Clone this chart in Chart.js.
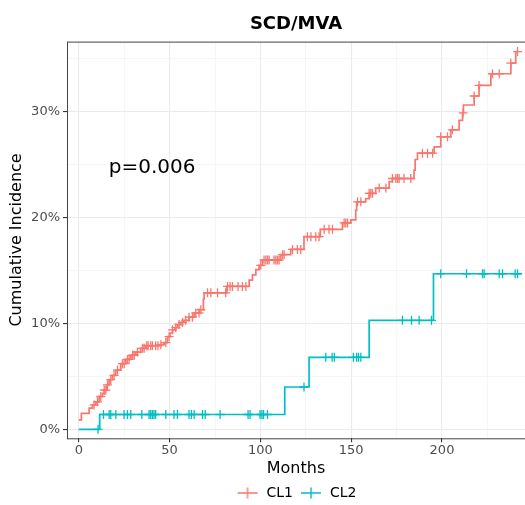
<!DOCTYPE html>
<html>
<head>
<meta charset="utf-8">
<script src="https://cdn.jsdelivr.net/npm/chart.js@4/dist/chart.umd.min.js"></script>
<style>
html, body { margin:0; padding:0; background:#fff; overflow:hidden; }
</style>
</head>
<body>
<canvas id="km" width="525" height="505"></canvas>
<script>
// cumulative incidence (%) after each event, months
const cl1Times = [0, 1.4, 5.7, 7.5, 9.4, 11.2, 13, 14, 15.4, 16.7, 18.5, 20.4, 23.1, 25.9, 28.6, 31.4, 34.1, 36.9, 45, 47,
  48.8, 50.2, 51.6, 53, 54.3, 56, 58, 60.7, 63.5, 66.3, 68.6, 69, 81.5, 93.8, 95.6, 97.5, 99.3, 101.1, 111.2, 116.7,
  124, 133, 145.2, 149.8, 152.5, 153, 158, 159.9, 163.5, 170.9, 172.7, 184.6, 185.2, 186.5, 195.7, 199.3, 204.8, 209.4, 211.3, 211.8,
  217.7, 220.4, 226.9, 237.9, 240.6];
const cl1Values = [0.9, 1.5, 2.0, 2.3, 2.6, 3.1, 3.4, 3.7, 4.2, 4.7, 5.1, 5.6, 6.2, 6.6, 7.0, 7.3, 7.65, 7.9, 8.0, 8.2,
  8.75, 9.1, 9.4, 9.6, 9.9, 10.1, 10.3, 10.6, 11.0, 11.3, 12.3, 12.9, 13.5, 14.1, 14.6, 15.1, 15.5, 16.0, 16.5, 17.0,
  18.2, 18.9, 19.5, 19.8, 20.7, 21.5, 21.8, 22.3, 22.8, 23.4, 23.7, 24.5, 25.5, 26.1, 26.7, 27.65, 28.3, 29.2, 29.9, 30.65,
  31.5, 32.5, 33.6, 34.6, 35.7];
const cl1Censor = [8.4, 10.3, 12.1, 14.0, 14.9, 15.8, 17.6, 19.4, 21.3, 24.0, 25.0, 26.8, 27.7, 29.6, 30.5, 32.3, 35.1, 36.0,
  37.4, 38.2, 39.6, 40.5, 42.3, 43.6, 45.2, 47.9, 49.7, 51.6, 53.4, 55.2, 57.1, 58.9, 60.7, 62.6, 64.4, 66.2, 67.2, 70.9,
  72.7, 76.4, 80.9, 81.9, 83.3, 84.6, 87.7, 90.1, 92.0, 100.2, 102.0, 103.0, 103.9, 104.8, 107.5, 108.5, 109.4, 110.3,
  112.2, 113.1, 117.7, 120.4, 122.2, 125.9, 127.8, 130.5, 132.3, 135.1, 137.8, 139.7, 146.1, 147.0, 148.0, 153.5, 155.3,
  159.9, 160.8, 161.7, 165.4, 169.1, 172.7, 174.6, 175.5, 176.4, 179.1, 182.8, 189.2, 192.0, 194.8, 199.3, 203.0, 205.7,
  211.6, 217.7, 220.4, 227.8, 231.5, 237.9, 241.6];

const cl2Times = [0, 11.5, 113.4, 126.8, 159.9, 195.3, 244];
const cl2Values = [0, 1.4, 4.0, 6.8, 10.3, 14.7, 14.7];
const cl2Censor = [10.6, 13.6, 16.7, 17.6, 20.4, 24.9, 26.8, 28.6, 34.7, 38.7, 39.6, 40.5, 41.4, 42.3, 47.9, 52.4, 54.3,
  60.7, 62.0, 63.5, 68.1, 69.6, 77.8, 93.2, 94.3, 99.8, 100.8, 101.7, 103.9, 124, 136, 139.5, 140.7, 151.2, 153, 154,
  155.3, 178.2, 183.2, 187.4, 194.2, 199.3, 213.5, 222.3, 223.2, 231.5, 233.3, 240.3, 241.6];

const groups = ['CL1', 'CL2'];
const colors = ['#F8766D', '#00BFC4'];
const xTicks = [0, 50, 100, 150, 200];
const xMinor = [25, 75, 125, 175, 225];
const yTicks = [0, 10, 20, 30];
const yMinor = [5, 15, 25, 35];
const pText = 'p=0.006';
const pPos = [16.5, 24.7];

const FONT = 'DejaVu Sans';

function stepAt(times, values, t) {
    let v = values[0];
    for (let i = 0; i < times.length; i++) if (times[i] <= t) v = values[i];
    return v;
}
const curve = (times, values) => times.map((t, i) => ({x: t, y: values[i]}));
const marks = (cens, times, values) => cens.map(t => ({x: t, y: stepAt(times, values, t)}));

function legendKey(color) {
    const c = document.createElement('canvas');
    c.width = 24; c.height = 12;
    const g = c.getContext('2d');
    g.strokeStyle = color;
    g.lineWidth = 1.4;
    g.beginPath();
    g.moveTo(2, 6); g.lineTo(22, 6);
    g.moveTo(12, 0.5); g.lineTo(12, 11.5);
    g.stroke();
    return c;
}

const panelPlugin = {
    id: 'panel',
    afterDatasetsDraw(chart) {
        const {ctx, chartArea: a, scales} = chart;
        ctx.save();
        ctx.strokeStyle = '#444';
        ctx.lineWidth = 1;
        ctx.strokeRect(a.left + 0.5, a.top + 0.5, a.right - a.left, a.bottom - a.top);
        ctx.fillStyle = '#000';
        ctx.font = '20px "' + FONT + '"';
        ctx.textAlign = 'left';
        ctx.textBaseline = 'middle';
        ctx.fillText(pText, scales.x.getPixelForValue(pPos[0]), scales.y.getPixelForValue(pPos[1]));
        ctx.restore();
    }
};

const lineSets = [
    [cl1Times, cl1Values, cl1Censor],
    [cl2Times, cl2Values, cl2Censor]
];
const datasets = [];
lineSets.forEach(([times, values, cens], i) => {
    datasets.push({
        label: groups[i],
        data: curve(times, values),
        borderColor: colors[i],
        backgroundColor: colors[i],
        borderWidth: 1.7,
        stepped: true,
        pointRadius: 0,
        pointStyle: legendKey(colors[i])
    });
});
lineSets.forEach(([times, values, cens], i) => {
    datasets.push({
        label: groups[i] + ' censor',
        data: marks(cens, times, values),
        showLine: false,
        borderColor: colors[i],
        backgroundColor: colors[i],
        pointStyle: 'cross',
        pointRadius: 4.5,
        pointBorderWidth: 1.3,
        pointHoverRadius: 0
    });
});

const majorX = new Set(xTicks), majorY = new Set(yTicks);

new Chart(document.getElementById('km'), {
    type: 'line',
    data: {datasets},
    plugins: [panelPlugin],
    options: {
        responsive: false,
        animation: false,
        events: [],
        layout: {autoPadding: false, padding: {left: 0, right: 0, top: 0, bottom: -5}},
        scales: {
            x: {
                type: 'linear',
                min: -6.5,
                max: 245.7,
                afterBuildTicks: s => { s.ticks = [...xTicks, ...xMinor].sort((a, b) => a - b).map(v => ({value: v})); },
                afterFit: s => { s.height = 41.7; },
                grid: {
                    color: c => majorX.has(c.tick.value) ? '#EBEBEB' : '#F2F2F2',
                    lineWidth: c => majorX.has(c.tick.value) ? 1.1 : 0.7,
                    tickColor: c => majorX.has(c.tick.value) ? '#333' : 'rgba(0,0,0,0)',
                    tickLength: 4
                },
                border: {display: false},
                ticks: {
                    autoSkip: false,
                    maxRotation: 0,
                    padding: 1,
                    color: '#4D4D4D',
                    font: {family: FONT, size: 13},
                    callback: v => majorX.has(v) ? String(v) : ''
                },
                title: {display: true, text: 'Months', color: '#000', font: {family: FONT, size: 16}, padding: {top: 0, bottom: 1.4}}
            },
            y: {
                min: -0.85,
                max: 36.64,
                afterBuildTicks: s => { s.ticks = [...yTicks, ...yMinor].sort((a, b) => a - b).map(v => ({value: v})); },
                afterFit: s => { s.width = 67; },
                grid: {
                    color: c => majorY.has(c.tick.value) ? '#EBEBEB' : '#F2F2F2',
                    lineWidth: c => majorY.has(c.tick.value) ? 1.1 : 0.7,
                    tickColor: c => majorY.has(c.tick.value) ? '#333' : 'rgba(0,0,0,0)',
                    tickLength: 4
                },
                border: {display: false},
                ticks: {
                    autoSkip: false,
                    padding: 3,
                    color: '#4D4D4D',
                    font: {family: FONT, size: 13},
                    callback: v => majorY.has(v) ? v + '%' : ''
                },
                title: {display: true, text: 'Cumulative Incidence', color: '#000', font: {family: FONT, size: 16}, padding: {top: 7, bottom: 0}}
            }
        },
        plugins: {
            title: {
                display: true,
                text: 'SCD/MVA',
                fullSize: false,
                color: '#000',
                font: {family: FONT, size: 18, weight: 'bold', lineHeight: 1.2},
                padding: {top: 14, bottom: 6}
            },
            legend: {
                position: 'bottom',
                fullSize: false,
                labels: {
                    usePointStyle: true,
                    pointStyleWidth: 24,
                    padding: 6,
                    color: '#000',
                    font: {family: FONT, size: 14},
                    filter: item => item.datasetIndex < 2
                }
            },
            tooltip: {enabled: false}
        }
    }
});
</script>
</body>
</html>
